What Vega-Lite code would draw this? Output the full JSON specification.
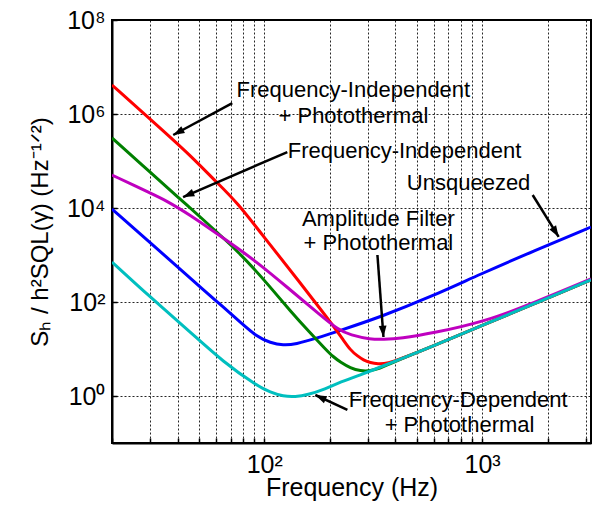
{
  "$schema": "https://vega.github.io/schema/vega-lite/v6.json",
  "width": 479,
  "height": 423,
  "autosize": {"type": "none"},
  "padding": {"left": 112, "top": 20, "right": 9, "bottom": 67},
  "background": "white",
  "config": {
    "font": "Liberation Sans",
    "view": {"stroke": "black", "strokeWidth": 2}
  },
  "datasets": {
    "curves": [
      {"s": "Unsqueezed", "f": 20, "v": 9520},
      {"s": "Unsqueezed", "f": 29.9, "v": 1840},
      {"s": "Unsqueezed", "f": 45.7, "v": 324},
      {"s": "Unsqueezed", "f": 50.8, "v": 208},
      {"s": "Unsqueezed", "f": 64.8, "v": 78.3},
      {"s": "Unsqueezed", "f": 77.6, "v": 37.5},
      {"s": "Unsqueezed", "f": 92.9, "v": 18.0},
      {"s": "Unsqueezed", "f": 106.6, "v": 13.6},
      {"s": "Unsqueezed", "f": 122.3, "v": 12.0},
      {"s": "Unsqueezed", "f": 138.8, "v": 12.6},
      {"s": "Unsqueezed", "f": 175.3, "v": 17.1},
      {"s": "Unsqueezed", "f": 218.9, "v": 24.1},
      {"s": "Unsqueezed", "f": 341.5, "v": 48.0},
      {"s": "Unsqueezed", "f": 579.8, "v": 128},
      {"s": "Unsqueezed", "f": 984, "v": 394},
      {"s": "Unsqueezed", "f": 1725, "v": 1217},
      {"s": "Unsqueezed", "f": 3160, "v": 3940},
      {"s": "Frequency-Independent", "f": 20, "v": 309000},
      {"s": "Frequency-Independent", "f": 29.9, "v": 58300},
      {"s": "Frequency-Independent", "f": 41.1, "v": 15500},
      {"s": "Frequency-Independent", "f": 50.8, "v": 6440},
      {"s": "Frequency-Independent", "f": 77.6, "v": 1100},
      {"s": "Frequency-Independent", "f": 106.6, "v": 208},
      {"s": "Frequency-Independent", "f": 131.7, "v": 64.4},
      {"s": "Frequency-Independent", "f": 162.7, "v": 21.9},
      {"s": "Frequency-Independent", "f": 190.8, "v": 10.0},
      {"s": "Frequency-Independent", "f": 207.6, "v": 6.76},
      {"s": "Frequency-Independent", "f": 223.6, "v": 5.29},
      {"s": "Frequency-Independent", "f": 248.6, "v": 3.94},
      {"s": "Frequency-Independent", "f": 276.3, "v": 3.40},
      {"s": "Frequency-Independent", "f": 307.3, "v": 3.40},
      {"s": "Frequency-Independent", "f": 341.5, "v": 3.94},
      {"s": "Frequency-Independent", "f": 367.8, "v": 4.57},
      {"s": "Frequency-Independent", "f": 422, "v": 6.13},
      {"s": "Frequency-Independent", "f": 579.8, "v": 11.0},
      {"s": "Frequency-Independent", "f": 984, "v": 30.9},
      {"s": "Frequency-Independent", "f": 1725, "v": 90.7},
      {"s": "Frequency-Independent", "f": 3160, "v": 294},
      {"s": "Frequency-Independent + Photothermal", "f": 20, "v": 4140000},
      {"s": "Frequency-Independent + Photothermal", "f": 29.9, "v": 783000},
      {"s": "Frequency-Independent + Photothermal", "f": 45.7, "v": 134000},
      {"s": "Frequency-Independent + Photothermal", "f": 59.5, "v": 37500},
      {"s": "Frequency-Independent + Photothermal", "f": 73.6, "v": 14800},
      {"s": "Frequency-Independent + Photothermal", "f": 106.6, "v": 1630},
      {"s": "Frequency-Independent + Photothermal", "f": 146.4, "v": 254},
      {"s": "Frequency-Independent + Photothermal", "f": 180.9, "v": 71.0},
      {"s": "Frequency-Independent + Photothermal", "f": 207.6, "v": 30.9},
      {"s": "Frequency-Independent + Photothermal", "f": 230.8, "v": 15.5},
      {"s": "Frequency-Independent + Photothermal", "f": 248.6, "v": 9.5},
      {"s": "Frequency-Independent + Photothermal", "f": 267.7, "v": 7.10},
      {"s": "Frequency-Independent + Photothermal", "f": 285.3, "v": 5.83},
      {"s": "Frequency-Independent + Photothermal", "f": 307.3, "v": 5.1},
      {"s": "Frequency-Independent + Photothermal", "f": 330.8, "v": 4.8},
      {"s": "Frequency-Independent + Photothermal", "f": 371.7, "v": 4.95},
      {"s": "Frequency-Independent + Photothermal", "f": 422, "v": 6.13},
      {"s": "Frequency-Independent + Photothermal", "f": 579.8, "v": 11.0},
      {"s": "Frequency-Independent + Photothermal", "f": 984, "v": 30.9},
      {"s": "Frequency-Independent + Photothermal", "f": 1725, "v": 90.7},
      {"s": "Frequency-Independent + Photothermal", "f": 3160, "v": 294},
      {"s": "Amplitude Filter + Photothermal", "f": 20, "v": 50400},
      {"s": "Amplitude Filter + Photothermal", "f": 29.9, "v": 20800},
      {"s": "Amplitude Filter + Photothermal", "f": 35.1, "v": 14800},
      {"s": "Amplitude Filter + Photothermal", "f": 45.7, "v": 7100},
      {"s": "Amplitude Filter + Photothermal", "f": 62.8, "v": 2540},
      {"s": "Amplitude Filter + Photothermal", "f": 92.9, "v": 710},
      {"s": "Amplitude Filter + Photothermal", "f": 131.7, "v": 180},
      {"s": "Amplitude Filter + Photothermal", "f": 180.9, "v": 52.9},
      {"s": "Amplitude Filter + Photothermal", "f": 218.9, "v": 25.4},
      {"s": "Amplitude Filter + Photothermal", "f": 248.6, "v": 19.9},
      {"s": "Amplitude Filter + Photothermal", "f": 307.3, "v": 16.0},
      {"s": "Amplitude Filter + Photothermal", "f": 352.5, "v": 16.0},
      {"s": "Amplitude Filter + Photothermal", "f": 422, "v": 16.7},
      {"s": "Amplitude Filter + Photothermal", "f": 598.4, "v": 21.9},
      {"s": "Amplitude Filter + Photothermal", "f": 1016, "v": 37.5},
      {"s": "Amplitude Filter + Photothermal", "f": 1725, "v": 95.3},
      {"s": "Amplitude Filter + Photothermal", "f": 3160, "v": 309},
      {"s": "Frequency-Dependent + Photothermal", "f": 20, "v": 710},
      {"s": "Frequency-Dependent + Photothermal", "f": 29.9, "v": 128},
      {"s": "Frequency-Dependent + Photothermal", "f": 45.7, "v": 23.0},
      {"s": "Frequency-Dependent + Photothermal", "f": 64.8, "v": 5.29},
      {"s": "Frequency-Dependent + Photothermal", "f": 92.9, "v": 1.63},
      {"s": "Frequency-Dependent + Photothermal", "f": 106.6, "v": 1.2},
      {"s": "Frequency-Dependent + Photothermal", "f": 122.3, "v": 0.98},
      {"s": "Frequency-Dependent + Photothermal", "f": 138.8, "v": 0.96},
      {"s": "Frequency-Dependent + Photothermal", "f": 157.6, "v": 1.05},
      {"s": "Frequency-Dependent + Photothermal", "f": 190.8, "v": 1.41},
      {"s": "Frequency-Dependent + Photothermal", "f": 223.6, "v": 1.99},
      {"s": "Frequency-Dependent + Photothermal", "f": 276.3, "v": 2.80},
      {"s": "Frequency-Dependent + Photothermal", "f": 341.5, "v": 4.14},
      {"s": "Frequency-Dependent + Photothermal", "f": 422, "v": 6.13},
      {"s": "Frequency-Dependent + Photothermal", "f": 579.8, "v": 11.0},
      {"s": "Frequency-Dependent + Photothermal", "f": 984, "v": 30.9},
      {"s": "Frequency-Dependent + Photothermal", "f": 1725, "v": 90.7},
      {"s": "Frequency-Dependent + Photothermal", "f": 3160, "v": 294}
    ],
    "labels": [
      {"text": "Frequency-Independent", "f": 256.6, "v": 2330000},
      {"text": "+ Photothermal", "f": 256.6, "v": 653000},
      {"text": "Frequency-Independent", "f": 440.4, "v": 114000},
      {"text": "Unsqueezed", "f": 867, "v": 24200},
      {"text": "Amplitude Filter", "f": 334, "v": 4140},
      {"text": "+ Photothermal", "f": 334, "v": 1280},
      {"text": "Frequency-Dependent", "f": 776, "v": 0.575},
      {"text": "+ Photothermal", "f": 788, "v": 0.174}
    ],
    "arrows": [
      {"f1": 71.3, "v1": 1710000, "f2": 38.2, "v2": 357000},
      {"f1": 127.6, "v1": 155000, "f2": 42.4, "v2": 17100},
      {"f1": 1707, "v1": 18900, "f2": 2247, "v2": 2420},
      {"f1": 330.8, "v1": 1000, "f2": 352.5, "v2": 18.0},
      {"f1": 240.8, "v1": 0.504, "f2": 171.6, "v2": 1.05}
    ]
  },
  "layer": [
    {
      "data": {"name": "curves"},
      "mark": {"type": "line", "strokeWidth": 3, "interpolate": "basis", "clip": true},
      "encoding": {
        "x": {
          "field": "f", "type": "quantitative",
          "scale": {"type": "log", "domain": [20, 3162], "nice": false},
          "axis": {
            "values": [20, 30, 40, 50, 60, 70, 80, 90, 100, 200, 300, 400, 500, 600, 700, 800, 900, 1000, 2000, 3000],
            "labelExpr": "datum.value == 100 ? '10²' : datum.value == 1000 ? '10³' : ''",
            "labelOverlap": false,
            "labelFlush": false,
            "labelFontSize": 25,
            "labelColor": "black",
            "labelPadding": 14,
            "grid": true,
            "gridColor": "black",
            "gridDash": [2, 2],
            "gridWidth": 1,
            "gridOpacity": 0.85,
            "domainColor": "black",
            "domainWidth": 2,
            "tickColor": "black",
            "tickSize": -5,
            "tickWidth": 1.5,
            "title": "Frequency (Hz)",
            "titleFontSize": 25,
            "titleFontWeight": "normal",
            "titleColor": "black",
            "titlePadding": -2
          }
        },
        "y": {
          "field": "v", "type": "quantitative",
          "scale": {"type": "log", "domain": [0.1, 100000000], "nice": false},
          "axis": {
            "values": [1, 100, 10000, 1000000, 100000000],
            "labelExpr": "'10' + ['⁰','¹','²','³','⁴','⁵','⁶','⁷','⁸'][round(log(datum.value)/LN10)]",
            "labelOverlap": false,
            "labelFlush": false,
            "labelFontSize": 25,
            "labelColor": "black",
            "labelPadding": 12,
            "grid": true,
            "gridColor": "black",
            "gridDash": [2, 2],
            "gridWidth": 1,
            "gridOpacity": 0.85,
            "domainColor": "black",
            "domainWidth": 2,
            "tickColor": "black",
            "tickSize": -5,
            "tickWidth": 1.5,
            "title": "Sₕ / h²SQL(γ) (Hz⁻¹ᐟ²)",
            "titleFontSize": 24,
            "titleFontWeight": "normal",
            "titleColor": "black",
            "titlePadding": 14
          }
        },
        "color": {
          "field": "s", "type": "nominal", "legend": null,
          "scale": {
            "domain": ["Unsqueezed", "Frequency-Independent", "Frequency-Independent + Photothermal", "Amplitude Filter + Photothermal", "Frequency-Dependent + Photothermal"],
            "range": ["#0000ff", "#008000", "#ff0000", "#bf00bf", "#00bfbf"]
          }
        }
      }
    },
    {
      "data": {"name": "labels"},
      "mark": {"type": "text", "fontSize": 22, "align": "center", "baseline": "alphabetic", "color": "black"},
      "encoding": {
        "x": {"field": "f", "type": "quantitative"},
        "y": {"field": "v", "type": "quantitative"},
        "text": {"field": "text"}
      }
    },
    {
      "data": {"name": "arrows"},
      "mark": {"type": "rule", "strokeWidth": 2.5, "color": "black"},
      "encoding": {
        "x": {"field": "f1", "type": "quantitative"},
        "y": {"field": "v1", "type": "quantitative"},
        "x2": {"field": "f2"},
        "y2": {"field": "v2"}
      }
    },
    {
      "data": {"name": "arrows"},
      "transform": [
        {"calculate": "atan2((log(datum.f2)-log(datum.f1))/log(3162/20)*width, (log(datum.v2)-log(datum.v1))/log(1000000000)*height)*180/PI", "as": "ang"}
      ],
      "mark": {"type": "point", "shape": "M0,0L0.45,1.3L-0.45,1.3Z", "filled": true, "color": "black", "opacity": 1, "size": 300, "strokeWidth": 0},
      "encoding": {
        "x": {"field": "f2", "type": "quantitative"},
        "y": {"field": "v2", "type": "quantitative"},
        "angle": {"field": "ang", "type": "quantitative", "scale": null}
      }
    }
  ]
}
